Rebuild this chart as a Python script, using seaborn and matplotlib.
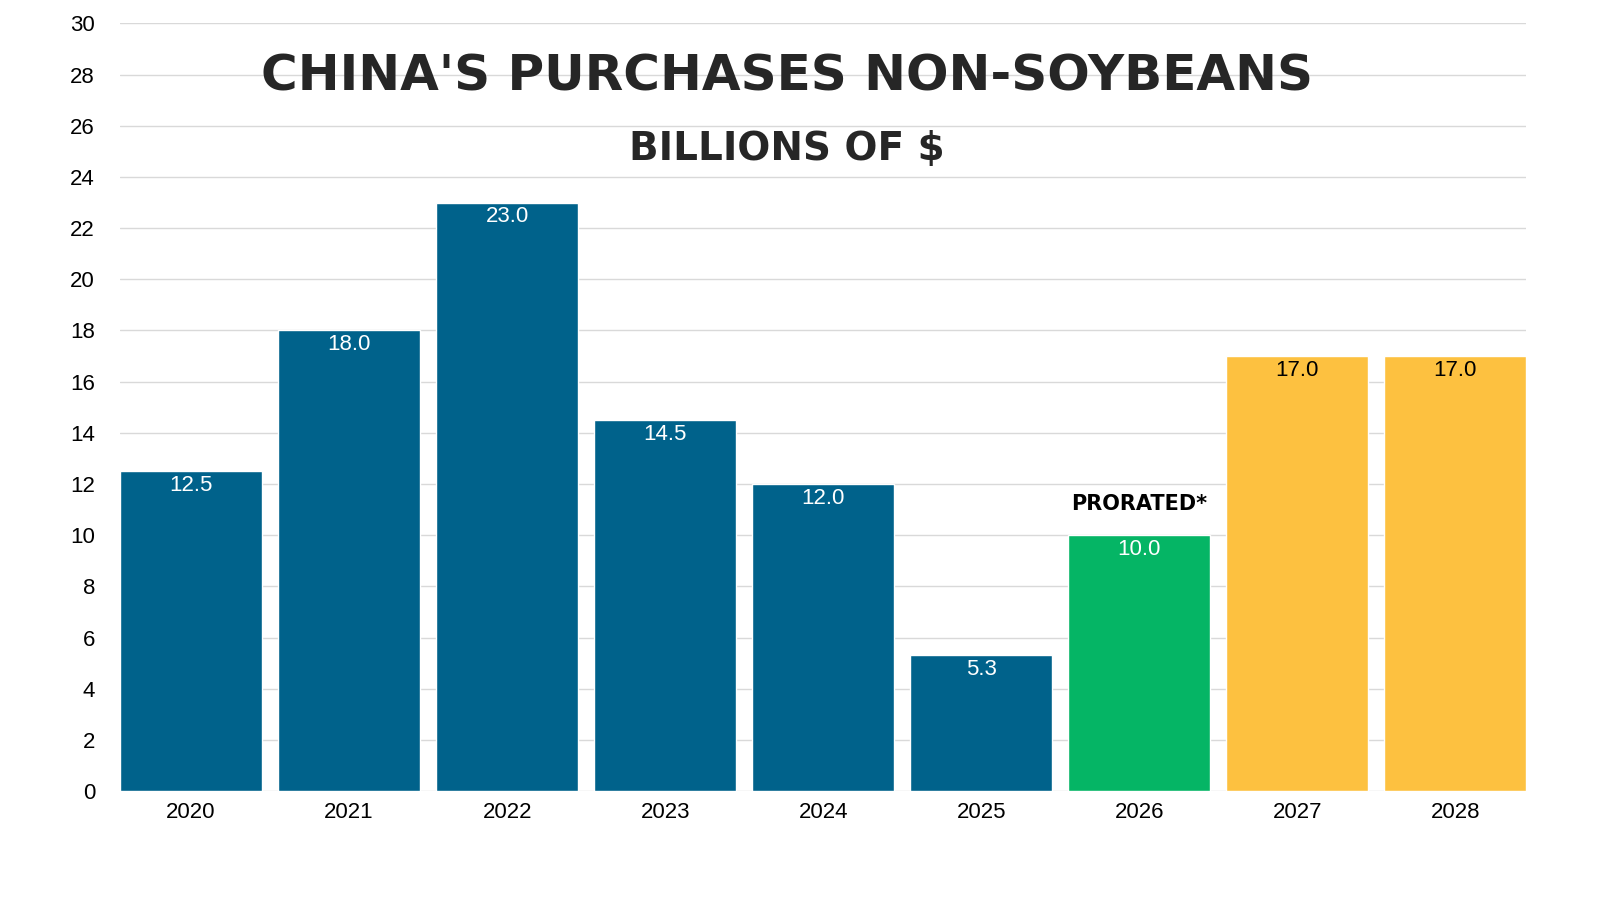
import matplotlib
matplotlib.use("Agg")
import matplotlib.pyplot as plt
import seaborn as sns
import pandas as pd

years = ["2020", "2021", "2022", "2023", "2024", "2025", "2026", "2027", "2028"]
values = [12.5, 18.0, 23.0, 14.5, 12.0, 5.3, 10.0, 17.0, 17.0]
colors = ["#00628B"] * 6 + ["#05B565"] + ["#FDC140"] * 2
label_colors = ["white"] * 7 + ["black"] * 2

sns.set_theme(style="white")
plt.rcParams['font.family'] = ['Liberation Sans', 'DejaVu Sans']

df = pd.DataFrame({"year": years, "value": values})
fig = plt.figure(figsize=(16, 9), dpi=100)
ax = fig.add_axes([0.075, 0.121, 0.879, 0.853])
sns.barplot(data=df, x="year", y="value", hue="year", palette=colors,
            width=0.9, saturation=1, legend=False, ax=ax, zorder=3)
ax.set_xlim(-0.45, 8.45)
ax.set_ylim(0, 30)
ax.set_yticks(range(0, 31, 2))
ax.yaxis.grid(True, color="#D9D9D9", linewidth=1, zorder=0)
for s in ax.spines.values():
    s.set_visible(False)
ax.set_xlabel("")
ax.set_ylabel("")
ax.tick_params(axis="both", labelsize=16, length=0, colors="black")
ax.tick_params(axis="x", pad=8)
ax.tick_params(axis="y", pad=18)

for i, (v, c) in enumerate(zip(values, label_colors)):
    ax.text(i, v - 0.55, f"{v:.1f}", ha="center", va="center", color=c, fontsize=16, zorder=4)

ax.text(6, 11.2, "PRORATED*", ha="center", va="center", fontsize=15,
        fontweight="bold", color="black", family="DejaVu Sans Condensed")
fig.text(0.492, 0.915, "CHINA'S PURCHASES NON-SOYBEANS", ha="center", va="center",
         fontsize=36, fontweight="bold", family="DejaVu Sans Condensed")
fig.text(0.492, 0.834, "BILLIONS OF $", ha="center", va="center",
         fontsize=28, fontweight="bold", family="DejaVu Sans Condensed")

fig.savefig("out.png", dpi=100, facecolor="white")
